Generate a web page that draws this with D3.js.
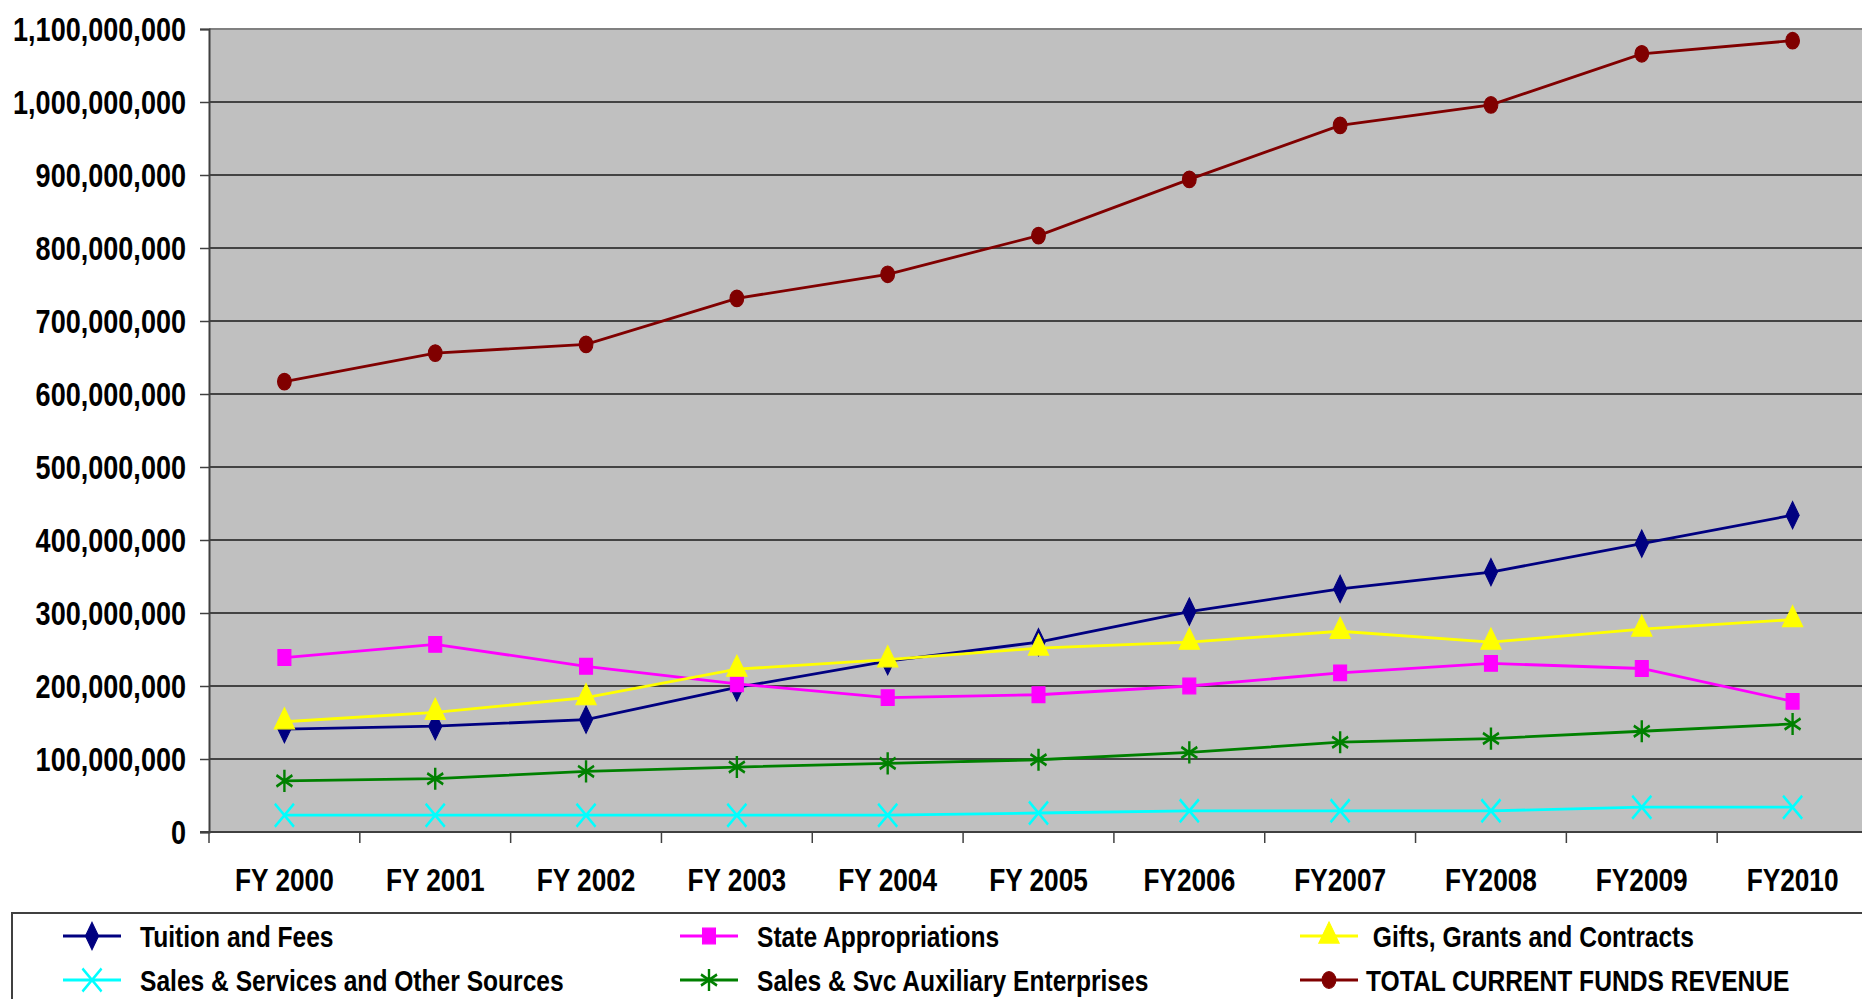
<!DOCTYPE html>
<html>
<head>
<meta charset="utf-8">
<script src="https://cdn.jsdelivr.net/npm/d3@7"></script>
<style>
  body { margin: 0; background: #ffffff; }
  svg text { font-family: "Liberation Sans", Arial, sans-serif; font-weight: bold; fill: #000; }
</style>
</head>
<body>
<div id="chart"></div>
<script>
// data
const years = ["FY 2000", "FY 2001", "FY 2002", "FY 2003", "FY 2004", "FY 2005", "FY2006", "FY2007", "FY2008", "FY2009", "FY2010"];

const tuitionFees = [141e6, 145e6, 154e6, 198e6, 234e6, 260e6, 302e6, 333e6, 356e6, 395e6, 434e6];
const stateApprop = [239e6, 257e6, 227e6, 203e6, 184e6, 188e6, 200e6, 218e6, 231e6, 224e6, 179e6];
const giftsGrants = [151e6, 164e6, 184e6, 223e6, 236e6, 252e6, 260e6, 275e6, 260e6, 278e6, 291e6];
const salesOther  = [23e6, 23e6, 23e6, 23e6, 23e6, 26e6, 29e6, 29e6, 29e6, 34e6, 34e6];
const salesAux    = [70e6, 73e6, 83e6, 89e6, 94e6, 99e6, 109e6, 123e6, 128e6, 138e6, 148e6];
const totalRev    = [617e6, 656e6, 668e6, 731e6, 764e6, 817e6, 894e6, 968e6, 996e6, 1066e6, 1084e6];

const yTicks = d3.range(0, 1100000001, 100000000);

const seriesNames = ["Tuition and Fees", "State Appropriations", " Gifts, Grants and Contracts",
  "Sales & Services and Other Sources", "Sales & Svc Auxiliary Enterprises", "TOTAL CURRENT FUNDS REVENUE"];

const width = 1862, height = 999;
const margin = { top: 29, left: 209, bottom: 167 };
const plotRight = 1868; // plot runs slightly off the right edge
const narrow = 0.82;    // squeeze text horizontally, like Arial Narrow

const series = [
  { name: seriesNames[0], values: tuitionFees, colour: "#000080", symbol: d3.symbolDiamond, size: 150, fill: true },
  { name: seriesNames[1], values: stateApprop, colour: "#ff00ff", symbol: d3.symbolSquare, size: 170, fill: true },
  { name: seriesNames[2], values: giftsGrants, colour: "#ffff00", symbol: d3.symbolTriangle, size: 180, fill: true },
  { name: seriesNames[3], values: salesOther, colour: "#00ffff", symbol: d3.symbolTimes, size: 240, fill: false },
  { name: seriesNames[4], values: salesAux, colour: "#008000", symbol: d3.symbolAsterisk, size: 240, fill: false },
  { name: seriesNames[5], values: totalRev, colour: "#800000", symbol: d3.symbolCircle, size: 150, fill: true }
];

const svg = d3.select("#chart").append("svg")
  .attr("width", width)
  .attr("height", height);

let x = d3.scaleBand()
  .domain(years)
  .range([margin.left, plotRight])
  .padding(0);

let y = d3.scaleLinear()
  .domain([0, 1100000000])
  .range([height - margin.bottom, margin.top]);

// plot area
svg.append("rect")
  .attr("x", margin.left)
  .attr("y", margin.top)
  .attr("width", plotRight - margin.left)
  .attr("height", y(0) - margin.top)
  .style("fill", "#c0c0c0");

// top border
svg.append("line")
  .attr("x1", margin.left).attr("x2", plotRight)
  .attr("y1", margin.top).attr("y2", margin.top)
  .style("stroke", "#808080").style("stroke-width", 2);

// gridlines
svg.selectAll("line.grid")
  .data(yTicks.filter(d => d > 0 && d < 1100000000))
  .enter()
  .append("line")
  .attr("class", "grid")
  .attr("x1", margin.left).attr("x2", plotRight)
  .attr("y1", d => y(d)).attr("y2", d => y(d))
  .style("stroke", "#1a1a1a")
  .style("stroke-width", 1.5);

// y axis
let yAxis = d3.axisLeft(y)
  .tickValues(yTicks)
  .tickSize(9)
  .tickFormat(d3.format(","));

svg.append("g")
  .attr("class", "axis yAxis")
  .attr("transform", `translate(${margin.left}, 0)`)
  .call(yAxis)
  .call(g => g.select(".domain").style("stroke", "#404040").style("stroke-width", 2))
  .call(g => g.selectAll(".tick line").style("stroke", "#404040").style("stroke-width", 1.5))
  .call(g => g.selectAll("text")
    .style("font-size", "33px")
    .attr("x", -23 / narrow)
    .attr("dy", "0.36em")
    .attr("transform", `scale(${narrow}, 1)`));

// x axis: labels centred in each band, ticks at band edges
let xAxis = d3.axisBottom(x)
  .tickSize(0)
  .tickPadding(36);

svg.append("g")
  .attr("class", "axis xAxis")
  .attr("transform", `translate(0, ${y(0)})`)
  .call(xAxis)
  .call(g => g.select(".domain").remove())
  .call(g => g.selectAll("text")
    .style("font-size", "32px")
    .attr("transform", `scale(${narrow}, 1)`));

svg.append("line")
  .attr("x1", margin.left - 9).attr("x2", plotRight)
  .attr("y1", y(0)).attr("y2", y(0))
  .style("stroke", "#404040").style("stroke-width", 2);

svg.selectAll("line.xtick")
  .data(years)
  .enter()
  .append("line")
  .attr("class", "xtick")
  .attr("x1", d => x(d)).attr("x2", d => x(d))
  .attr("y1", y(0)).attr("y2", y(0) + 11)
  .style("stroke", "#404040").style("stroke-width", 1.5);

// lines + markers
let line = d3.line()
  .x((d, i) => x(years[i]) + x.bandwidth() / 2)
  .y(d => y(d));

const marker = (sel, s) => sel
  .attr("d", d3.symbol().type(s.symbol).size(s.size))
  .style("fill", s.fill ? s.colour : "none")
  .style("stroke", s.colour)
  .style("stroke-width", s.fill ? 1 : 2.4);

series.forEach(s => {
  svg.append("path")
    .datum(s.values)
    .attr("d", line)
    .style("fill", "none")
    .style("stroke", s.colour)
    .style("stroke-width", 2.8);

  svg.selectAll(null)
    .data(s.values)
    .enter()
    .append("path")
    .attr("transform", (d, i) => `translate(${x(years[i]) + x.bandwidth() / 2}, ${y(d)}) scale(1, 1.2)`)
    .call(marker, s);
});

// legend
svg.append("rect")
  .attr("x", 12).attr("y", 913)
  .attr("width", 1880).attr("height", 120)
  .style("fill", "#ffffff")
  .style("stroke", "#404040")
  .style("stroke-width", 2);

const legendCols = [63, 680, 1300];
const legendTextDx = [77, 77, 66];
const legendRows = [936, 980];

let legend = svg.selectAll("g.legendItem")
  .data(series)
  .enter()
  .append("g")
  .attr("class", "legendItem")
  .attr("transform", (d, i) => `translate(${legendCols[i % 3]}, ${legendRows[Math.floor(i / 3)]})`);

legend.append("line")
  .attr("x1", 0).attr("x2", 58)
  .attr("y1", 0).attr("y2", 0)
  .style("stroke", d => d.colour)
  .style("stroke-width", 2.8);

legend.each(function(d) {
  d3.select(this).append("path")
    .attr("transform", "translate(29, 0) scale(1, 1.2)")
    .call(marker, d);
});

legend.append("text")
  .attr("transform", (d, i) => `translate(${legendTextDx[i % 3]}, 0) scale(${narrow}, 1)`)
  .attr("dy", "0.36em")
  .style("font-size", "30px")
  .style("white-space", "pre")
  .text(d => d.name);
</script>
</body>
</html>
